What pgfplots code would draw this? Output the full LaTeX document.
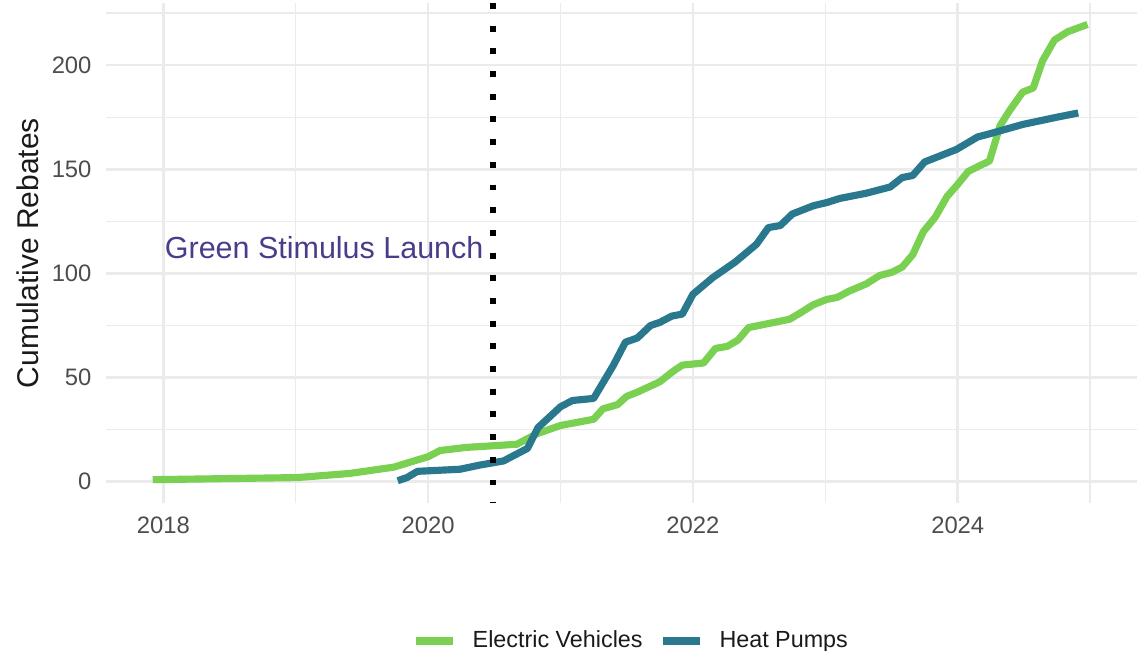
\documentclass[border=0pt]{standalone}
\usepackage{pgfplots}
\pgfplotsset{compat=1.18}
\usepackage{fontspec}
\setmainfont{Liberation Sans}
\definecolor{evgreen}{HTML}{7AD151}
\definecolor{hpteal}{HTML}{2A788E}
\definecolor{gridc}{HTML}{EBEBEB}
\definecolor{annot}{HTML}{483D8B}
\definecolor{ticktxt}{HTML}{4D4D4D}
\definecolor{titletxt}{HTML}{1A1A1A}

\pgfplotstableread{
x y
2017.92 1
2019.01 2
2019.41 4
2019.74 7
2019.92 10.5
2020.00 12
2020.09 15
2020.29 16.5
2020.42 17
2020.67 18
2020.82 23
2021.00 27
2021.25 30
2021.32 35
2021.43 37
2021.50 41
2021.58 43
2021.75 48
2021.85 53
2021.92 56
2022.08 57
2022.17 64
2022.26 65
2022.34 68
2022.42 74
2022.73 78
2022.81 81
2022.91 85
2023.01 87.5
2023.09 88.5
2023.18 91.5
2023.31 95
2023.41 99
2023.50 100.5
2023.58 103
2023.66 109
2023.74 120
2023.83 127
2023.92 137
2023.99 142
2024.08 149
2024.24 154
2024.32 171
2024.39 178
2024.49 187
2024.57 189
2024.64 202
2024.73 212
2024.83 216
2024.98 219.5
}\evdata

\pgfplotstableread{
x y
2019.77 0.5
2019.84 2
2019.92 5
2020.24 6
2020.39 8
2020.57 10
2020.75 16
2020.83 26
2021.00 36
2021.09 39
2021.25 40
2021.40 56
2021.49 67
2021.58 69
2021.68 75
2021.75 76.5
2021.84 79.5
2021.92 80.5
2022.00 90
2022.15 98
2022.32 105.5
2022.48 114
2022.57 122
2022.66 123
2022.75 128.5
2022.91 132.5
2023.01 134
2023.11 136
2023.31 138.5
2023.49 141.5
2023.58 146
2023.66 147
2023.75 153.5
2023.99 159.5
2024.15 165.5
2024.24 167
2024.49 171.5
2024.75 175
2024.91 177
}\hpdata

\begin{document}
\begin{tikzpicture}
\path[use as bounding box] (-44.52pt,-61.74pt) rectangle (433.86pt,211.26pt);
\begin{axis}[
  at={(0pt,0pt)}, anchor=south west,
  scale only axis, width=433.02pt, height=210pt,
  xmin=2017.567, xmax=2025.354, ymin=-10.2, ymax=229.8,
  xtick={2018,2020,2022,2024},
  minor xtick={2019,2021,2023,2025},
  ytick={0,50,100,150,200},
  minor ytick={25,75,125,175,225},
  grid=both,
  major grid style={gridc, line width=1.1pt},
  minor grid style={gridc, line width=0.55pt},
  axis line style={draw=none},
  tick style={draw=none},
  major tick length=0pt, minor tick length=0pt,
  /pgf/number format/assume math mode=true,
  /pgf/number format/1000 sep={},
  xticklabel style={font=\fontsize{10}{12}\selectfont, text=ticktxt, inner sep=0pt, anchor=north, yshift=-5.7pt},
  yticklabel style={font=\fontsize{10}{12}\selectfont, text=ticktxt, inner sep=0pt, anchor=east, xshift=-5.9pt},
  ylabel={Cumulative Rebates},
  ylabel style={at={(axis description cs:-0.0757,0.5)}, anchor=center, inner sep=0pt, font=\fontsize{12.6}{14}\selectfont, text=titletxt},
  legend style={at={(axis description cs:0.5083,-0.276)}, anchor=center, draw=none, fill=none, inner sep=0pt,
    font=\fontsize{9.8}{12}\selectfont, text=titletxt, nodes={inner sep=0pt},
    column sep=6.9pt},
  legend columns=2,
  legend cell align=left,
  legend image code/.code={\draw[#1] (0pt,0pt) -- (15.5pt,0pt);},
]
\addplot[evgreen, line width=3pt, line join=round] table[x=x,y=y] {\evdata};
\addlegendentry{Electric Vehicles}
\addplot[hpteal, line width=3pt, line join=round] table[x=x,y=y] {\hpdata};
\addlegendentry{Heat Pumps}
\draw[black, line width=2.5pt, dash pattern=on 2.5pt off 7.03pt] (axis cs:2020.49,229.8) -- (axis cs:2020.49,-10.2);
\node[anchor=east, inner sep=0pt, text=annot, font=\fontsize{12.8}{14}\selectfont] at (axis cs:2020.421,112.5) {Green Stimulus Launch};
\end{axis}
\end{tikzpicture}
\end{document}
